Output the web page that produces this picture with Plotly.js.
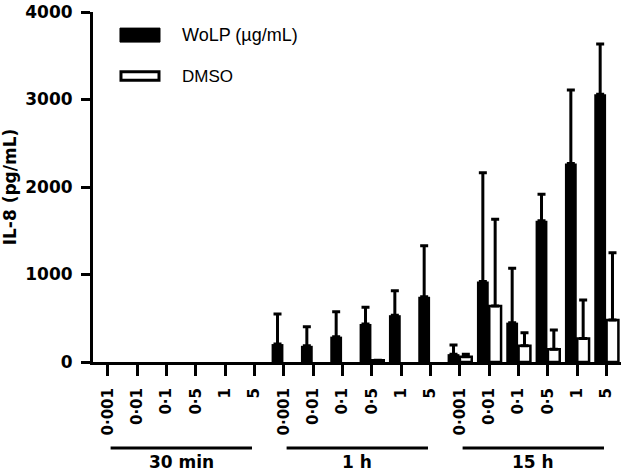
<!DOCTYPE html>
<html>
<head>
<meta charset="utf-8">
<script src="https://cdn.plot.ly/plotly-3.0.1.min.js"></script>
<style>
  body { margin: 0; background: #fff; }
  #chart { width: 622px; height: 473px; }
</style>
</head>
<body>
<div id="chart"></div>
<script>
// Doses and time points along the x axis
let doses = ["0·001", "0·01", "0·1", "0·5", "1", "5"];
let times = ["30 min", "1 h", "15 h"];

// IL-8 means (pg/mL): 30 min, 1 h, 15 h
let wolp = [0, 0, 0, 0, 0, 0,
            205, 185, 290, 435, 535, 745,
            90, 920, 450, 1615, 2270, 3060];
let wolpErr = [0, 0, 0, 0, 0, 0,
               345, 218, 285, 190, 280, 584,
               104, 1244, 621, 301, 839, 574];

let dmso = [0, 0, 0, 0, 0, 0,
            0, 0, 0, 20, 0, 0,
            60, 640, 185, 145, 270, 480];
let dmsoErr = [0, 0, 0, 0, 0, 0,
               0, 0, 0, 0, 0, 0,
               30, 991, 150, 221, 439, 769];

// One slot per time point and dose
let xIdx = [];
let tickText = [];
for (let t = 0; t < times.length; t++) {
  for (let d = 0; d < doses.length; d++) {
    xIdx.push(t * doses.length + d);
    tickText.push(doses[d]);
  }
}
let zeros = wolp.map(() => 0);
// zero means nothing is drawn (no flat outline / cap sitting on the axis)
let blank = (arr) => arr.map((v) => (v === 0 ? null : v));

let trace1 = {
  x: xIdx,
  y: blank(wolp),
  type: "bar",
  name: "WoLP (µg/mL)",
  marker: { color: "#000", line: { color: "#000", width: 0 } },
  error_y: { type: "data", symmetric: false, array: blank(wolpErr), arrayminus: zeros,
             color: "#000", thickness: 3, width: 4 }
};

let trace2 = {
  x: xIdx,
  y: blank(dmso),
  type: "bar",
  name: "DMSO",
  marker: { color: "#fff", line: { color: "#000", width: 2.5 } },
  error_y: { type: "data", symmetric: false, array: blank(dmsoErr), arrayminus: zeros,
             color: "#000", thickness: 3, width: 4 }
};

let boldFont = { family: "DejaVu Sans", size: 17, color: "#000", weight: "bold" };
let legFont = { family: "Liberation Sans, Arial", size: 18, color: "#000" };

// Group bars and labels under the axis
let shapes = [];
let annotations = [];
for (let t = 0; t < times.length; t++) {
  let x0 = t * doses.length;
  shapes.push({
    type: "line", xref: "x", yref: "paper",
    x0: x0 + 0.1, x1: x0 + 4.92, y0: -0.2457, y1: -0.2457,
    line: { color: "#000", width: 3 }
  });
  annotations.push({
    text: times[t], xref: "x", yref: "paper",
    x: x0 + 2.5, y: -0.287, xanchor: "center", yanchor: "middle",
    showarrow: false, font: Object.assign({}, boldFont, { size: 17 })
  });
}

// Legend drawn as boxes + text
shapes.push({
  type: "rect", xref: "paper", yref: "paper",
  x0: 0.0511, x1: 0.1269, y0: 0.914, y1: 0.954,
  fillcolor: "#000", line: { color: "#000", width: 1 }
});
shapes.push({
  type: "rect", xref: "paper", yref: "paper",
  x0: 0.0530, x1: 0.1250, y0: 0.805, y1: 0.829,
  fillcolor: "#fff", line: { color: "#000", width: 3 }
});
annotations.push({
  text: "WoLP (µg/mL)", xref: "paper", yref: "paper",
  x: 0.165, y: 0.934, xanchor: "left", yanchor: "middle",
  showarrow: false, font: legFont
});
annotations.push({
  text: "DMSO", xref: "paper", yref: "paper",
  x: 0.165, y: 0.817, xanchor: "left", yanchor: "middle",
  showarrow: false, font: Object.assign({}, legFont, { size: 17 })
});

let layout = {
  width: 622,
  height: 473,
  margin: { l: 93, r: 1, t: 12, b: 111 },
  paper_bgcolor: "#fff",
  plot_bgcolor: "#fff",
  barmode: "group",
  bargap: 0.16,
  bargroupgap: 0.04,
  showlegend: false,
  xaxis: {
    range: [-0.5, 17.5],
    tickvals: xIdx,
    ticktext: tickText,
    tickangle: -90,
    ticks: "outside",
    ticklen: 11,
    tickwidth: 3,
    tickcolor: "#000",
    showline: true,
    linecolor: "#000",
    linewidth: 3,
    showgrid: false,
    zeroline: false,
    tickfont: Object.assign({}, boldFont, { size: 15 }),
    ticklabelstandoff: 6
  },
  yaxis: {
    range: [0, 4000],
    tickvals: [0, 1000, 2000, 3000, 4000],
    ticks: "outside",
    ticklen: 9,
    tickwidth: 3,
    tickcolor: "#000",
    showline: true,
    linecolor: "#000",
    linewidth: 3,
    showgrid: false,
    zeroline: false,
    tickfont: boldFont,
    ticklabelstandoff: 5,
    title: { text: "IL-8 (pg/mL)", font: Object.assign({}, boldFont, { size: 17 }), standoff: 12 }
  },
  shapes: shapes,
  annotations: annotations
};

Plotly.newPlot("chart", [trace1, trace2], layout, { displayModeBar: false });
</script>
</body>
</html>
